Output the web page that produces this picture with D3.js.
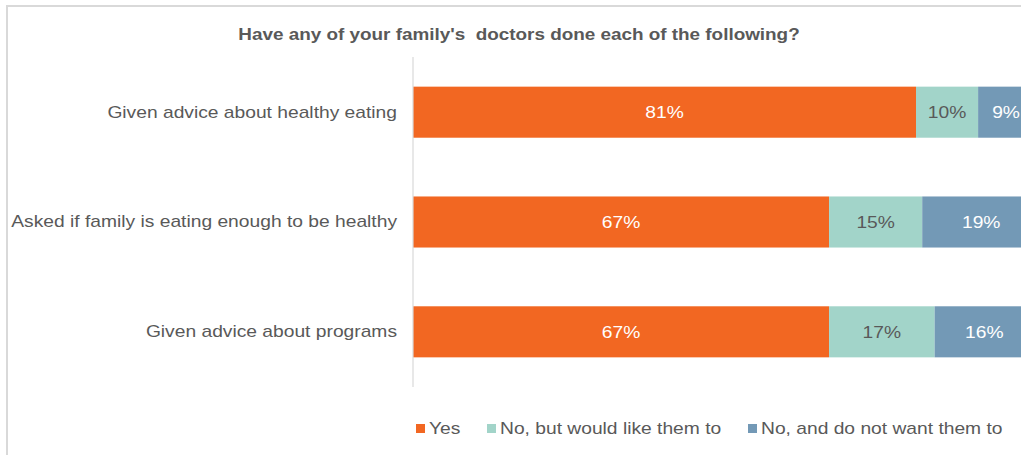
<!DOCTYPE html>
<html>
<head>
<meta charset="utf-8">
<script src="https://cdn.jsdelivr.net/npm/d3@7"></script>
<style>
  html, body { margin: 0; padding: 0; background: #fff; }
  svg { display: block; font-family: "Liberation Sans", Arial, sans-serif; }
</style>
</head>
<body>
<svg id="chart" width="1021" height="455"></svg>
<script>
const title = "Have any of your family's  doctors done each of the following?";
const categories = [
  "Given advice about healthy eating",
  "Asked if family is eating enough to be healthy",
  "Given advice about programs"
];
const seriesNames = ["Yes", "No, but would like them to", "No, and do not want them to"];
const yesValues = [81, 67, 67];
const wouldLikeValues = [10, 15, 17];
const doNotWantValues = [9, 19, 16];
const colors = ["#f26722", "#a2d4c9", "#7399b6"];
const labelColors = ["#ffffff", "#595959", "#ffffff"];

const svg = d3.select("#chart");
const W = 1021, H = 455;
const SX = 1.145;          // horizontal text stretch
const textColor = "#595959";

// outer frame
svg.append("rect")
  .attr("x", 7).attr("y", 6).attr("width", W + 20).attr("height", H + 20)
  .attr("fill", "none").attr("stroke", "#d9d9d9").attr("stroke-width", 2);

function stretchedText(parent, x, y, str) {
  return parent.append("text")
    .attr("transform", `translate(${x},${y}) scale(${SX},1)`)
    .style("white-space", "pre")
    .text(str);
}

stretchedText(svg, 519, 40, title)
  .attr("text-anchor", "middle")
  .attr("font-size", 16.5).attr("font-weight", "bold")
  .attr("fill", textColor);

const rows = categories.map((c, i) => ({
  category: c,
  values: [yesValues[i], wouldLikeValues[i], doNotWantValues[i]]
}));

const x = d3.scaleLinear().domain([0, 100]).range([413, 1034]);
const y = d3.scaleBand().domain(categories).range([57, 387]).paddingInner(0.535).paddingOuter(0.27);

const stack = d3.stack().keys([0, 1, 2]).value((d, k) => d.values[k]);
const layers = stack(rows);

const g = svg.append("g");
layers.forEach((layer, k) => {
  const lg = g.append("g");
  lg.selectAll("rect").data(layer).join("rect")
    .attr("x", d => x(d[0]))
    .attr("y", d => y(d.data.category))
    .attr("width", d => x(d[1]) - x(d[0]))
    .attr("height", y.bandwidth())
    .attr("fill", colors[k]);
  layer.forEach(d => {
    stretchedText(lg, (x(d[0]) + x(d[1])) / 2, y(d.data.category) + y.bandwidth() / 2, d.data.values[k] + "%")
      .attr("dy", "0.36em")
      .attr("text-anchor", "middle")
      .attr("font-size", 16.8)
      .attr("fill", labelColors[k]);
  });
});

// category axis
const axis = d3.axisLeft(y).tickSize(0).tickPadding(16);
const ax = svg.append("g").attr("transform", "translate(413,0)").call(axis);
ax.select(".domain").attr("stroke", "#d9d9d9").attr("stroke-width", 1.2)
  .attr("d", "M0,57V387");
ax.selectAll("text")
  .attr("x", -16 / SX)
  .attr("transform", `scale(${SX},1)`)
  .attr("font-size", 16.8)
  .attr("font-family", "Liberation Sans, Arial, sans-serif")
  .attr("fill", textColor);

// legend
const legendX = [416, 487, 748];
const legend = svg.append("g");
seriesNames.forEach((name, k) => {
  legend.append("rect")
    .attr("x", legendX[k]).attr("y", 424).attr("width", 9).attr("height", 9)
    .attr("fill", colors[k]);
  stretchedText(legend, legendX[k] + 13, 428, name)
    .attr("dy", "0.36em")
    .attr("font-size", 16.8).attr("fill", textColor);
});
</script>
</body>
</html>
